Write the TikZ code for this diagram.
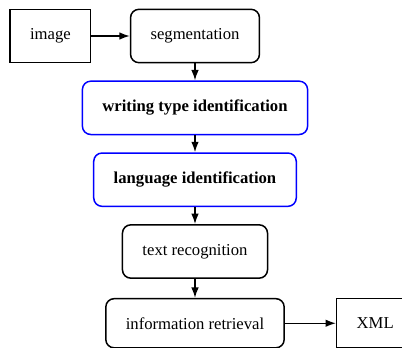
\documentclass[tikz,border=0pt]{standalone}
\usepackage{fontspec}
\setmainfont{Liberation Serif}
\usepackage{xcolor}
\usetikzlibrary{arrows.meta, positioning}
\tikzset{
  io/.style     = {rectangle, draw, line width=0.9pt, minimum height=32pt,
                   inner xsep=12pt, align=center, font=\normalsize},
  stage/.style  = {rectangle, rounded corners=5pt, draw, line width=0.9pt,
                   minimum height=32pt, inner xsep=12pt, align=center,
                   font=\normalsize},
  ident/.style  = {stage, draw=blue, font=\normalsize\bfseries},
  flow/.style   = {-{Latex[length=2.2mm, width=1.6mm]}, line width=0.9pt},
}

\begin{document}
\begin{tikzpicture}[node distance=10.2pt]
  \useasboundingbox (-117pt,21.6pt) rectangle (124.2pt,-187.2pt);
  \node[stage] (seg) {segmentation};
  \node[io, left=23pt of seg] (img) {image};
  \node[ident, below=of seg] (wtype) {writing type identification};
  \node[ident, below=of wtype] (lang) {language identification};
  \node[stage, below=of lang] (ocr) {text recognition};
  \node[stage, below=11.4pt of ocr, minimum height=29.5pt] (info) {information retrieval};
  \node[io, right=30.6pt of info, minimum height=29.5pt] (xml) {XML};

  \draw[flow] (img) -- (seg);
  \draw[flow] (seg) -- (wtype);
  \draw[flow] (wtype) -- (lang);
  \draw[flow] (lang) -- (ocr);
  \draw[flow] (ocr) -- (info);
  \draw[flow] (info) -- (xml);
\end{tikzpicture}
\end{document}
